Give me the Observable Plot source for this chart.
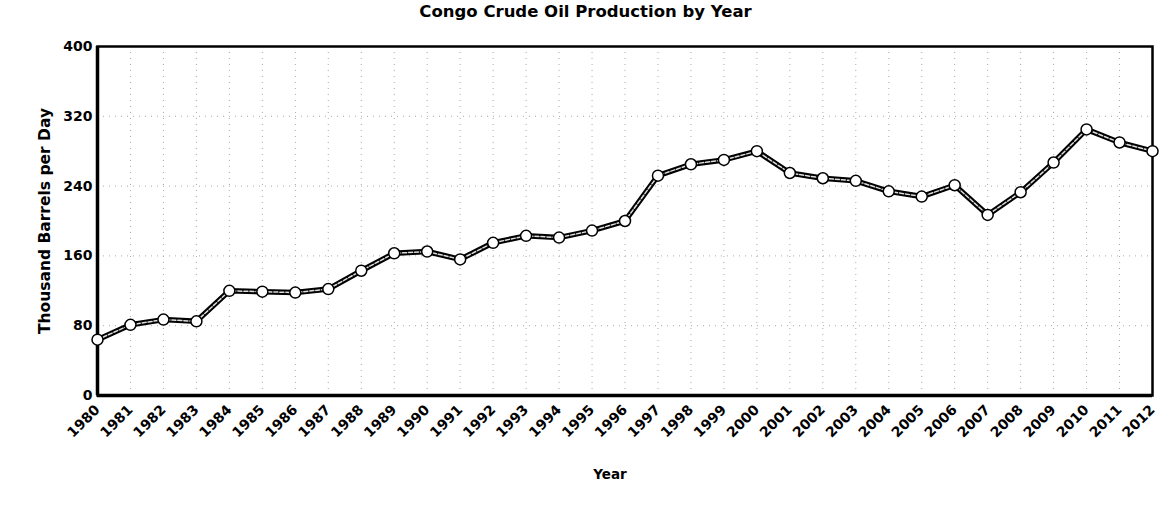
<!DOCTYPE html>
<html>
<head>
<meta charset="utf-8">
<script src="https://cdn.jsdelivr.net/npm/d3@7"></script>
<script src="https://cdn.jsdelivr.net/npm/@observablehq/plot@0.6"></script>
<style>
  html, body { margin: 0; padding: 0; background: #fff; }
  #title { height: 28px; padding-top: 2px; box-sizing: border-box; line-height: 22px; text-align: center; font: bold 16.5px "DejaVu Sans", Verdana, sans-serif; color: #000; }
</style>
</head>
<body>
<div id="title">Congo Crude Oil Production by Year</div>
<div id="chart"></div>
<script>
const years = d3.range(1980, 2013);
const production = [64, 81, 87, 85, 120, 119, 118, 122, 143, 163, 165, 156, 175, 183, 181, 189, 200,
                    252, 265, 270, 280, 255, 249, 246, 234, 228, 241, 207, 233, 267, 305, 290, 280];
const yTicks = [0, 80, 160, 240, 320, 400];

const data = years.map((y, i) => ({year: y, value: production[i]}));

const chart = Plot.plot({
  width: 1171,
  height: 481,
  marginTop: 18,
  marginBottom: 114,
  marginLeft: 97,
  marginRight: 19,
  style: {fontFamily: '"DejaVu Sans", Verdana, sans-serif', fontWeight: "bold", fontSize: "14px", color: "#000", background: "#fff"},
  x: {domain: [1980, 2012], ticks: years, tickFormat: d => String(d)},
  y: {domain: [0, 400], ticks: yTicks},
  marks: [
    Plot.ruleX(years, {x: d => d, stroke: "#aaa", strokeDasharray: "1,5", strokeWidth: 1}),
    Plot.ruleY(yTicks.slice(1, -1), {y: d => d, stroke: "#aaa", strokeDasharray: "1,5", strokeWidth: 1}),
    Plot.axisX({ticks: years, tickFormat: d => String(d), tickSize: 0, tickRotate: -45, tickPadding: 12, fontSize: 14, fontWeight: "bold", label: null}),
    Plot.axisY({ticks: yTicks, tickSize: 0, tickPadding: 5, fontSize: 14, fontWeight: "bold", label: null}),
    Plot.frame({stroke: "#000", strokeWidth: 2.5}),
    Plot.ruleX([1980], {stroke: "#000", strokeWidth: 3.5}),
    Plot.ruleY([0], {stroke: "#000", strokeWidth: 3.5}),
    Plot.lineY(data, {x: "year", y: "value", stroke: "#000", strokeWidth: 5.5}),
    Plot.lineY(data, {x: "year", y: "value", stroke: "#ddd", strokeWidth: 1.5, strokeDasharray: "4,2"}),
    Plot.dot(data, {x: "year", y: "value", r: 5.5, fill: "#fff", stroke: "#000", strokeWidth: 1.5}),
    Plot.text(["Thousand Barrels per Day"], {frameAnchor: "left", dx: -52, rotate: -90, textAnchor: "middle", fontSize: 15.5, fontWeight: "bold", text: d => d}),
    Plot.text(["Year"], {frameAnchor: "bottom", dy: 83, dx: -15, fontSize: 13.5, fontWeight: "bold", text: d => d})
  ]
});
document.getElementById("chart").appendChild(chart);
</script>
</body>
</html>
